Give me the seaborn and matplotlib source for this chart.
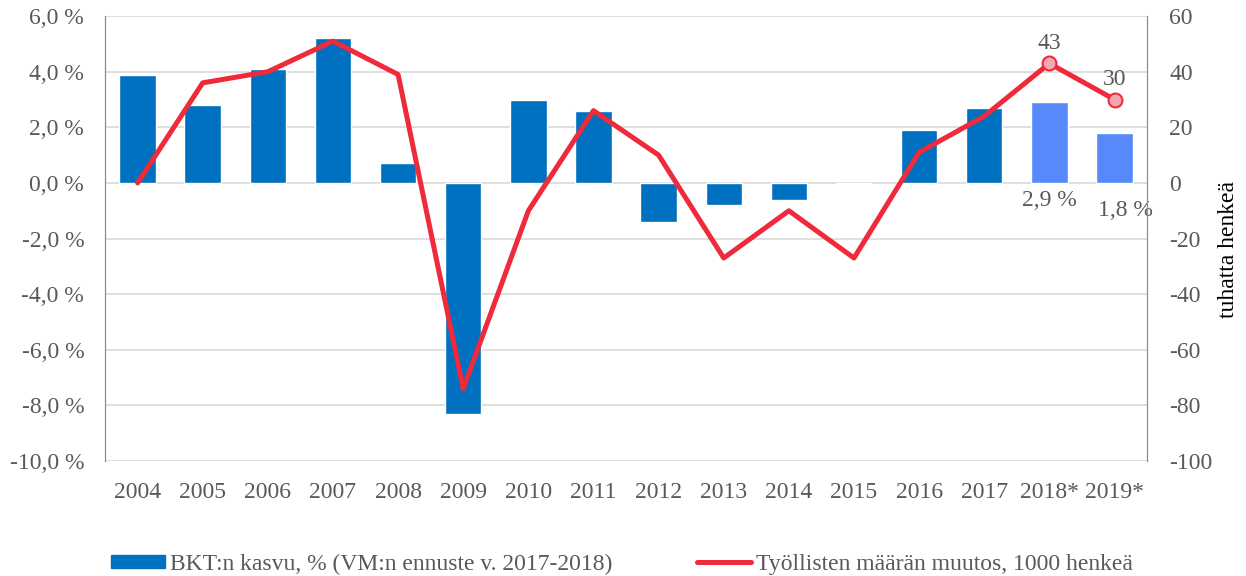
import numpy as np
import pandas as pd
import matplotlib
matplotlib.use("Agg")
import matplotlib.pyplot as plt
import seaborn as sns
from matplotlib.patches import Patch
from matplotlib.lines import Line2D

# data
years = ["2004", "2005", "2006", "2007", "2008", "2009", "2010", "2011",
         "2012", "2013", "2014", "2015", "2016", "2017", "2018*", "2019*"]
gdp_growth = [3.9, 2.8, 4.1, 5.2, 0.7, -8.3, 3.0, 2.6,
              -1.4, -0.8, -0.6, 0.0, 1.9, 2.7, 2.9, 1.8]
employment_change = [0, 36, 40, 51, 39, -74, -10, 26,
                     10, -27, -10, -27, 11, 24, 43, 30]
forecast_years = ["2018*", "2019*"]
left_ticks = [6, 4, 2, 0, -2, -4, -6, -8, -10]
right_ticks = [60, 40, 20, 0, -20, -40, -60, -80, -100]

df = pd.DataFrame({"year": years, "gdp": gdp_growth, "emp": employment_change})

sns.set_style("white")
plt.rcParams['font.family'] = ['Liberation Serif', 'DejaVu Serif']
plt.rcParams['axes.unicode_minus'] = False
text_col = "#595959"
blue = "#0070C0"
light_blue = "#5789FA"
red = "#EE2A3B"
fs = 17

fig = plt.figure(figsize=(12.46, 5.76), dpi=100)
ax = fig.add_axes([0.0843, 0.1997, 0.8363, 0.7723])

bar_colors = {y: (light_blue if y in forecast_years else blue) for y in years}
sns.barplot(data=df, x="year", y="gdp", hue="year", palette=bar_colors,
            legend=False, width=0.56, ax=ax, saturation=1)
ax.set_ylim(-10, 6)
ax.set_yticks(left_ticks)
ax.set_yticklabels([f"{t:.1f} %".replace(".", ",") for t in left_ticks])
ax.grid(axis="y", color="#D9D9D9", linewidth=1.2)
ax.set_axisbelow(True)
ax.set_xlabel("")
ax.set_ylabel("")
ax.tick_params(axis="both", length=0, labelsize=fs, labelcolor=text_col)
ax.tick_params(axis="x", pad=15)
ax.tick_params(axis="y", pad=15)
for side in ["top", "bottom"]:
    ax.spines[side].set_visible(False)
for side in ["left", "right"]:
    ax.spines[side].set_color("#8C8C8C")

ax2 = ax.twinx()
sns.lineplot(data=df, x="year", y="emp", ax=ax2, color=red, linewidth=3.6,
             sort=False)
fc = df[df["year"].isin(forecast_years)]
sns.scatterplot(data=fc, x="year", y="emp", ax=ax2, s=100, color="#F4A7B1",
                edgecolor=red, linewidth=1.5, zorder=5)
ax2.set_ylim(-100, 60)
ax2.set_yticks(right_ticks)
ax2.set_ylabel("tuhatta henkeä", fontsize=fs, color="black")
ax2.yaxis.set_label_coords(1.068, 0.475)
ax2.set_xlabel("")
ax2.tick_params(axis="y", length=0, labelsize=fs, labelcolor=text_col, pad=16)
for side in ["top", "bottom"]:
    ax2.spines[side].set_visible(False)
for side in ["left", "right"]:
    ax2.spines[side].set_color("#8C8C8C")
ax.set_xlim(-0.5, len(years) - 0.5)

# data labels
for _, row in fc.iterrows():
    ax2.annotate(f"{row['emp']}", (row["year"], row["emp"]), xytext=(0, 7),
                 textcoords="offset points", ha="center", va="bottom",
                 fontsize=fs, color=text_col)
offsets = [(0, -5), (8, -12)]
for (_, row), off in zip(fc.iterrows(), offsets):
    ax.annotate(f"{row['gdp']:.1f} %".replace(".", ","), (row["year"], 0),
                xytext=off, textcoords="offset points", ha="center",
                va="top", fontsize=fs, color=text_col)

handles = [Patch(facecolor=blue, edgecolor=blue),
           Line2D([0], [0], color=red, linewidth=3.6)]
labels = ["BKT:n kasvu, % (VM:n ennuste v. 2017-2018)",
          "Työllisten määrän muutos, 1000 henkeä"]
fig.legend(handles, labels, loc="lower center", ncol=2, frameon=False,
           bbox_to_anchor=(0.499, -0.035), fontsize=fs,
           labelcolor=text_col, columnspacing=3.6, handlelength=2.3,
           handleheight=0.5, handletextpad=0.2)

plt.savefig("out.png", dpi=100)
plt.close()
